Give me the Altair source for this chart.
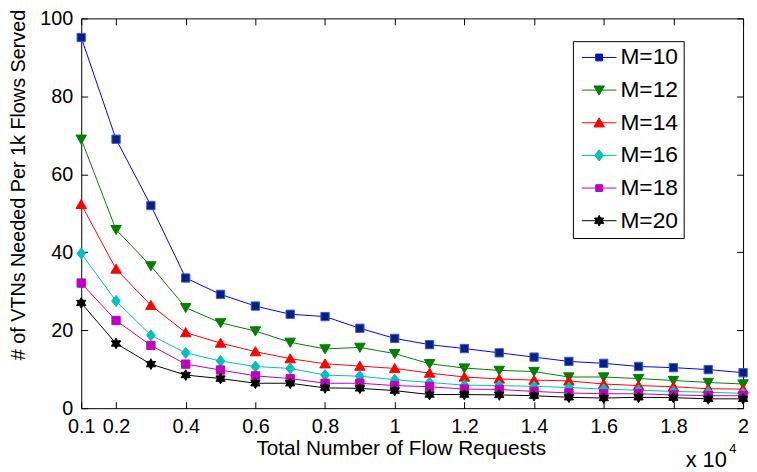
import math
import altair as alt
import pandas as pd

# ---------------- data ----------------
x_vals = [0.1, 0.2, 0.3, 0.4, 0.5, 0.6, 0.7, 0.8, 0.9, 1.0,
          1.1, 1.2, 1.3, 1.4, 1.5, 1.6, 1.7, 1.8, 1.9, 2.0]
series_names = ["M=10", "M=12", "M=14", "M=16", "M=18", "M=20"]
m10 = [95.1, 69.0, 52.0, 33.4, 29.2, 26.2, 24.1, 23.5, 20.5, 17.9,
       16.3, 15.3, 14.2, 13.1, 12.0, 11.5, 10.7, 10.4, 9.9, 9.1]
m12 = [69.0, 45.8, 36.5, 25.8, 21.9, 19.8, 16.9, 15.2, 15.6, 14.0,
       11.4, 10.3, 9.7, 9.4, 8.0, 8.0, 7.6, 7.1, 6.6, 6.2]
m14 = [52.3, 35.7, 26.4, 19.4, 16.7, 14.5, 12.7, 11.4, 10.8, 10.2,
       9.0, 8.0, 7.5, 7.2, 7.0, 6.2, 5.8, 5.5, 5.0, 4.9]
m16 = [39.7, 27.5, 18.7, 14.2, 12.1, 10.7, 10.2, 8.5, 8.2, 7.3,
       6.6, 5.9, 5.8, 5.6, 5.3, 4.9, 4.6, 4.3, 4.1, 3.8]
m18 = [32.1, 22.5, 16.1, 11.3, 9.8, 8.3, 7.6, 6.4, 6.4, 5.8,
       5.5, 4.9, 4.8, 4.3, 3.9, 3.7, 3.7, 3.4, 3.2, 3.2]
m20 = [27.0, 16.6, 11.3, 8.5, 7.6, 6.4, 6.4, 5.2, 5.1, 4.5,
       3.5, 3.5, 3.4, 3.2, 2.8, 2.6, 2.8, 2.7, 2.4, 2.4]
series_values = [m10, m12, m14, m16, m18, m20]
x_ticks = [0.1, 0.2, 0.4, 0.6, 0.8, 1.0, 1.2, 1.4, 1.6, 1.8, 2.0]
y_ticks = [0, 20, 40, 60, 80, 100]

rows = []
for name, vals in zip(series_names, series_values):
    for xv, yv in zip(x_vals, vals):
        rows.append({"x": xv, "y": yv, "M": name})
df = pd.DataFrame(rows)

# ---------------- styles ----------------
line_colors = ["#0000ff", "#008000", "#ff0000", "#00bfbf", "#bf00bf", "#000000"]
marker_fill = ["#0c2270", "#008000", "#ff0000", "#00bfbf", "#bf00bf", "#000000"]
marker_edge = ["#3355ff", "#008000", "#ff0000", "#00bfbf", "#bf00bf", "#000000"]

W, H = 669, 394
FONT = "Liberation Sans"


def poly(pts, unit):
    return "M" + "L".join(f"{px / unit:.3f},{py / unit:.3f}" for px, py in pts) + "Z"


sq = [(-4.2, -4.2), (4.2, -4.2), (4.2, 4.2), (-4.2, 4.2)]
sq_small = [(-3.4, -3.4), (3.4, -3.4), (3.4, 3.4), (-3.4, 3.4)]
tri_down = [(-5.3, -4.2), (5.3, -4.2), (0, 5.0)]
tri_up = [(0, -5.0), (5.3, 4.2), (-5.3, 4.2)]
diamond = [(0, -5.6), (4.4, 0), (0, 5.6), (-4.4, 0)]
hexa = []
for k in range(12):
    r = 5.4 if k % 2 == 0 else 3.1
    a = math.radians(-90 + 30 * k)
    hexa.append((r * math.cos(a), r * math.sin(a)))

chart_markers = [sq, tri_down, tri_up, diamond, sq, hexa]
legend_markers = [sq_small, tri_down, tri_up, diamond, sq_small, hexa]

point_paths = [poly(m, 5.0) for m in chart_markers]          # size 100 -> 5px unit
legend_paths = ["M-1.75,0H1.75" + poly(m, 10.0) for m in legend_markers]  # size 400 -> 10px unit

x_enc = alt.X("x:Q", scale=alt.Scale(domain=[0.1, 2.0], nice=False, zero=False),
              axis=alt.Axis(values=x_ticks, format="~g", title="Total Number of Flow Requests",
                            labelFontSize=20, titleFontSize=21, labelPadding=9,
                            ticks=False, tickSize=0, domain=False, labelOverlap=False,
                            labelFlush=False, labelBound=False,
                            grid=True, gridColor="black", gridOpacity=1, gridWidth=1,
                            gridDash=[6.5, H - 13, 6.5, 0],
                            titleX=323, titleY=47, titleBaseline="alphabetic",
                            titleAlign="center"))
y_enc = alt.Y("y:Q", scale=alt.Scale(domain=[0, 100], nice=False),
              axis=alt.Axis(values=y_ticks, title="# of VTNs Needed Per 1k Flows Served",
                            labelFontSize=20, titleFontSize=20, labelPadding=8.5,
                            ticks=False, tickSize=0, domain=False, labelOverlap=False,
                            labelFlush=False, labelBound=False,
                            grid=True, gridColor="black", gridOpacity=1, gridWidth=1,
                            gridDash=[6.5, W - 13, 6.5, 0],
                            titleX=-57, titleY=168, titleAngle=-90,
                            titleBaseline="alphabetic", titleAlign="center"))

lines = alt.Chart(df).mark_line(strokeWidth=1).encode(
    x=x_enc, y=y_enc,
    stroke=alt.Stroke("M:N", scale=alt.Scale(domain=series_names, range=line_colors), legend=None),
    order="x:Q",
)

points = alt.Chart(df).mark_point(filled=True, size=100, strokeWidth=1, opacity=1).encode(
    x=x_enc, y=y_enc,
    shape=alt.Shape("M:N", scale=alt.Scale(domain=series_names, range=point_paths), legend=None),
    fill=alt.Fill("M:N", scale=alt.Scale(domain=series_names, range=marker_fill), legend=None),
    stroke=alt.Stroke("M:N", scale=alt.Scale(domain=series_names, range=marker_edge), legend=None),
)

legend_layer = alt.Chart(df).transform_filter("false").mark_point(
    filled=True, size=400, strokeWidth=1, opacity=1).encode(
    x=x_enc, y=y_enc,
    shape=alt.Shape("M:N", scale=alt.Scale(domain=series_names, range=legend_paths),
                    legend=alt.Legend(title=None, orient="none", legendX=497, legendY=23,
                                      padding=5, strokeColor="black", fillColor="white",
                                      symbolSize=400, symbolStrokeWidth=1,
                                      labelFontSize=23, labelFont=FONT, labelColor="black",
                                      rowPadding=9.0, symbolOffset=10, labelOffset=10,
                                      cornerRadius=0)),
    fill=alt.Fill("M:N", scale=alt.Scale(domain=series_names, range=marker_fill)),
    stroke=alt.Stroke("M:N", scale=alt.Scale(domain=series_names, range=line_colors)),
)

exp_base = alt.Chart(pd.DataFrame({"t": ["x 10"]})).mark_text(
    align="left", baseline="alphabetic", fontSize=22, font=FONT, color="black").encode(
    text="t:N", x=alt.value(611), y=alt.value(453))
exp_sup = alt.Chart(pd.DataFrame({"t": ["4"]})).mark_text(
    align="left", baseline="alphabetic", fontSize=13, font=FONT, color="black").encode(
    text="t:N", x=alt.value(655), y=alt.value(439))

chart = alt.layer(lines, points, legend_layer, exp_base, exp_sup).resolve_scale(
    shape="independent", fill="independent", stroke="independent"
).properties(
    width=W, height=H, autosize="none",
    padding={"left": 74, "top": 8, "right": 6, "bottom": 62},
).configure_view(stroke="black", strokeWidth=1).configure_axis(
    labelFont=FONT, titleFont=FONT, labelColor="black", titleColor="black",
    titleFontWeight="normal"
).configure_legend(labelFont=FONT)

chart.save("out.html", embed_options={"renderer": "svg", "actions": False})
